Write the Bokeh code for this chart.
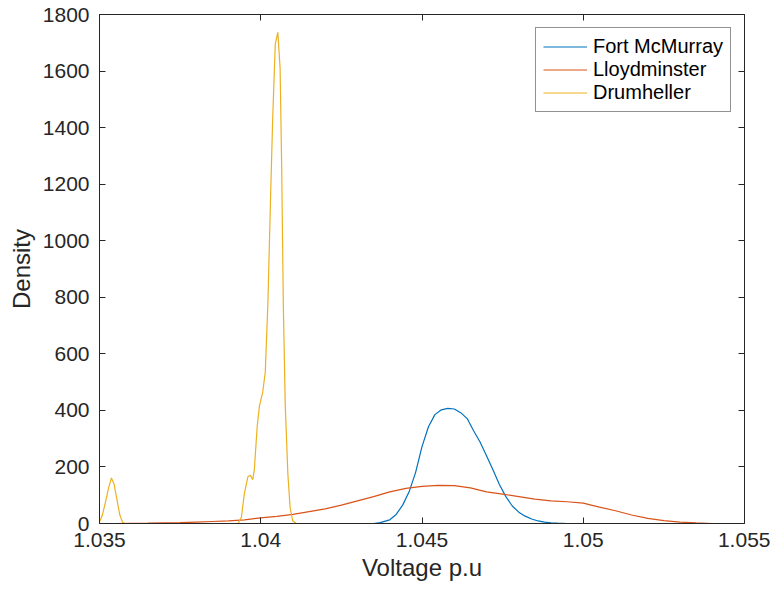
from bokeh.plotting import figure
from bokeh.models import Range1d, LinearAxis, FixedTicker, Legend, LegendItem
from bokeh.embed import file_html
from bokeh.resources import INLINE

# ---------------- data ----------------
x_ticks = [1.035, 1.04, 1.045, 1.05, 1.055]
x_tick_labels = ["1.035", "1.04", "1.045", "1.05", "1.055"]
y_ticks = [0, 200, 400, 600, 800, 1000, 1200, 1400, 1600, 1800]

fort_x = [1.0435, 1.0437, 1.0440, 1.0442, 1.0444, 1.0446, 1.0448, 1.0450, 1.0452, 1.0454,
          1.0456, 1.0458, 1.0460, 1.0462, 1.0464, 1.0466, 1.0468, 1.0470, 1.0472, 1.0474,
          1.0476, 1.0478, 1.0480, 1.0482, 1.0484, 1.0486, 1.0488, 1.0490, 1.0492, 1.0495]
fort_y = [0, 3, 13, 32, 65, 112, 180, 272, 342, 385,
          402, 407, 405, 392, 371, 328, 288, 240, 190, 138,
          95, 62, 40, 26, 16, 9, 5, 2, 1, 0]

lloyd_x = [1.0355, 1.0360, 1.0365, 1.0370, 1.0375, 1.0380, 1.0385, 1.0390, 1.0395, 1.0400,
           1.0405, 1.0410, 1.0415, 1.0420, 1.0425, 1.0430, 1.0435, 1.0440, 1.0445, 1.0450,
           1.0455, 1.0460, 1.0465, 1.0470, 1.0475, 1.0480, 1.0485, 1.0490, 1.0495, 1.0500,
           1.0505, 1.0510, 1.0515, 1.0520, 1.0525, 1.0530, 1.0535, 1.0540]
lloyd_y = [0, 0.5, 1, 2, 3, 5, 7, 9, 13, 20,
           25, 32, 42, 52, 65, 80, 95, 112, 124, 131,
           135, 134, 126, 112, 104, 95, 86, 80, 77, 72,
           58, 45, 30, 18, 10, 5, 2, 0]

drum_x = [1.0350, 1.03509, 1.03518, 1.03528, 1.03537, 1.03545, 1.03554, 1.03563, 1.03572, 1.0358,
          1.0393, 1.0394, 1.03949, 1.0396, 1.03968, 1.03975, 1.0398, 1.03989, 1.03996, 1.04006,
          1.04014, 1.04022, 1.0403, 1.04037, 1.04045, 1.04053, 1.0406, 1.04065, 1.0407, 1.04076,
          1.04084, 1.04091, 1.04099, 1.0411]
drum_y = [5, 30, 73, 125, 161, 140, 85, 30, 3, 0,
          0, 22, 105, 165, 171, 155, 189, 344, 416, 464,
          535, 774, 1133, 1432, 1695, 1737, 1611, 1253, 774, 416,
          177, 57, 10, 0]

series_names = ["Fort McMurray", "Lloydminster", "Drumheller"]
series_colors = ["#0072BD", "#D95319", "#EDB120"]

# ---------------- figure ----------------
FONT = "Liberation Sans"
AX = "#262626"

p = figure(width=770, height=592, output_backend="svg", toolbar_location=None,
           x_range=Range1d(1.035, 1.055), y_range=Range1d(0, 1800),
           min_border_left=99, min_border_right=26, min_border_top=14, min_border_bottom=69,
           x_axis_label="Voltage p.u", y_axis_label="Density")
p.background_fill_color = "white"
p.border_fill_color = "white"
p.grid.visible = False
p.outline_line_color = None

r1 = p.line(fort_x, fort_y, line_color=series_colors[0], line_width=1.2)
r2 = p.line(lloyd_x, lloyd_y, line_color=series_colors[1], line_width=1.2)
r3 = p.line(drum_x, drum_y, line_color=series_colors[2], line_width=1.2)

def style_axis(ax, ticks, show_labels=True):
    ax.ticker = FixedTicker(ticks=ticks)
    ax.major_tick_in = 6
    ax.major_tick_out = 0
    ax.minor_tick_line_color = None
    ax.axis_line_color = AX
    ax.major_tick_line_color = AX
    ax.axis_line_width = 1
    ax.major_label_text_font = FONT
    if show_labels:
        ax.major_label_text_color = AX
        ax.major_label_text_font_size = "21px"
    else:
        ax.major_label_text_color = None
        ax.major_label_text_font_size = "0px"
        ax.major_label_standoff = 0
    ax.axis_label_text_font = FONT
    ax.axis_label_text_font_size = "24px"
    ax.axis_label_text_font_style = "normal"
    ax.axis_label_text_color = AX

xa = p.xaxis[0]
style_axis(xa, x_ticks)
xa.major_label_overrides = {t: l for t, l in zip(x_ticks, x_tick_labels)}
xa.major_label_standoff = 9
xa.axis_label_standoff = 4

ya = p.yaxis[0]
style_axis(ya, y_ticks)
ya.major_label_standoff = 10
ya.axis_label_standoff = 5

top = LinearAxis()
style_axis(top, x_ticks, show_labels=False)
p.add_layout(top, "above")
right = LinearAxis()
style_axis(right, y_ticks, show_labels=False)
p.add_layout(right, "right")

legend = Legend(items=[LegendItem(label=series_names[0], renderers=[r1]),
                       LegendItem(label=series_names[1], renderers=[r2]),
                       LegendItem(label=series_names[2], renderers=[r3])],
                location="top_right")
legend.margin = 13
legend.padding = 7
legend.spacing = 0
legend.glyph_width = 44
legend.glyph_height = 23
legend.label_height = 23
legend.label_standoff = 6
legend.label_text_font = FONT
legend.label_text_font_size = "20px"
legend.label_text_color = "black"
legend.border_line_color = AX
legend.border_line_width = 1
legend.background_fill_color = "white"
legend.background_fill_alpha = 1
p.add_layout(legend)

open("out.html", "w").write(file_html(p, INLINE))
